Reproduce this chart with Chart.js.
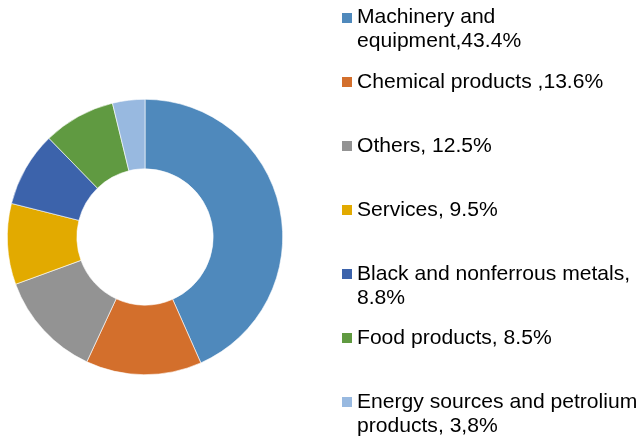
<!DOCTYPE html>
<html>
<head>
<meta charset="utf-8">
<script src="https://cdn.jsdelivr.net/npm/chart.js@4/dist/chart.umd.min.js"></script>
<style>
  html, body { margin: 0; padding: 0; background: #ffffff; }
  #wrap { position: relative; width: 641px; height: 444px; overflow: hidden; }
  #chartBox { position: absolute; left: 0; top: 92px; width: 290px; height: 290px; }
  #legend { position: absolute; left: 0; top: 0; width: 641px; height: 444px; }
  .item { position: absolute; left: 357px; width: 284px; font-family: "Liberation Sans", Arial, sans-serif;
          font-size: 21.1px; line-height: 24px; color: #000; white-space: nowrap; }
  .sw { position: absolute; width: 10px; height: 10px; left: 342px; }
</style>
</head>
<body>
<div id="wrap">
  <div id="chartBox"><canvas id="c"></canvas></div>
  <div id="legend"></div>
</div>
<script>
const categories = [
  ["Machinery and", "equipment,43.4%"],
  ["Chemical products ,13.6%"],
  ["Others, 12.5%"],
  ["Services, 9.5%"],
  ["Black and nonferrous metals,", "8.8%"],
  ["Food products, 8.5%"],
  ["Energy sources and petrolium", "products, 3,8%"]
];
const shares = [43.4, 13.6, 12.5, 9.5, 8.8, 8.5, 3.8];
const colors = ["#4F89BC", "#D36F2C", "#939393", "#E2AA00", "#3C63AB", "#609A41", "#98B9E0"];

const chart = new Chart(document.getElementById('c'), {
  type: 'doughnut',
  data: {
    labels: categories,
    datasets: [{
      data: shares,
      backgroundColor: colors,
      borderColor: '#ffffff',
      borderWidth: 0.6
    }]
  },
  options: {
    responsive: true,
    maintainAspectRatio: false,
    animation: false,
    cutout: '49.5%',
    layout: { padding: 7 },
    plugins: { legend: { display: false }, tooltip: { enabled: false } }
  }
});

// HTML legend built from the chart's labels and colours
const legend = document.getElementById('legend');
chart.data.labels.forEach((lines, i) => {
  const baseline = 23.8 + 64.1 * i;
  const item = document.createElement('div');
  item.className = 'item';
  item.style.top = (baseline - 19.4) + 'px';
  item.innerHTML = lines.map(t => t.replace(/&/g, '&amp;').replace(/</g, '&lt;')).join('<br>');
  const sw = document.createElement('div');
  sw.className = 'sw';
  sw.style.top = (baseline - 11.3) + 'px';
  sw.style.background = chart.data.datasets[0].backgroundColor[i];
  legend.appendChild(sw);
  legend.appendChild(item);
});
</script>
</body>
</html>
